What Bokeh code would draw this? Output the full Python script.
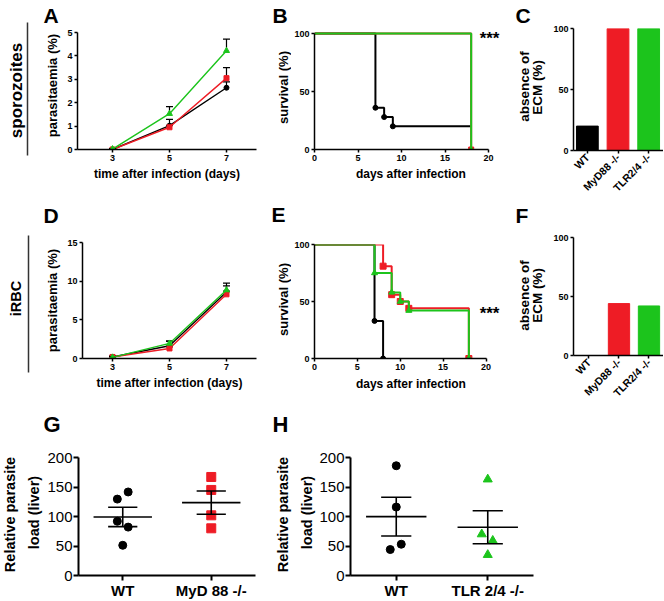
import math
from bokeh.plotting import figure
from bokeh.layouts import row, column
from bokeh.models import Range1d, Label
from bokeh.embed import file_html
from bokeh.resources import INLINE
from bokeh.core.properties import value

FONT = "Liberation Sans"
BLACK = "#000000"
RED = "#EE1C25"
GREEN = "#1CC41C"

# ---------------- data ----------------
days_par = [3, 5, 7]
# panel A (sporozoites, parasitaemia %)
A_wt = [0.0, 1.02, 2.64]
A_wt_err = [0.02, 0.27, 0.25]
A_myd = [0.0, 0.95, 3.05]
A_myd_err = [0.02, 0.08, 0.45]
A_tlr = [0.02, 1.53, 4.22]
A_tlr_err = [0.02, 0.30, 0.50]
# panel D (iRBC, parasitaemia %)
D_wt = [0.2, 1.65, 8.6]
D_wt_err = [0.1, 0.6, 0.8]
D_myd = [0.2, 1.3, 8.3]
D_myd_err = [0.1, 0.2, 0.4]
D_tlr = [0.15, 1.95, 8.85]
D_tlr_err = [0.1, 0.3, 0.9]

# survival curves (time, % survival)
B_wt_t = [0, 7, 8, 9, 18]
B_wt_s = [100, 36, 28, 20, 20]
B_myd_t = [0, 18]
B_myd_s = [100, 0]
B_tlr_t = [0, 18]
B_tlr_s = [100, 0]

E_wt_t = [0, 7, 8]
E_wt_s = [100, 33, 0]
E_myd_t = [0, 8, 9, 10, 11, 18]
E_myd_s = [100, 81, 56, 50, 44, 0]
E_tlr_t = [0, 7, 9, 10, 11, 18]
E_tlr_s = [100, 75, 58, 50, 42, 0]

# absence of ECM (%)
groups = ["WT", "MyD88 -/-", "TLR2/4 -/-"]
C_vals = [20, 100, 100]
F_vals = [0, 44, 42]

# relative parasite load (liver)
G_cats = ["WT", "MyD 88 -/-"]
G_wt = [141.6, 129.5, 92, 82, 51.2]
G_myd = [167, 145, 102, 80]
H_cats = ["WT", "TLR 2/4 -/-"]
H_wt = [186, 116, 53, 44]
H_tlr = [163, 70, 59, 35]
# horizontal scatter offsets (pixels) as in the picture
G_wt_jit = [5.5, -5.5, -5.5, 5.5, 0]
G_myd_jit = [0, 0, 0, 0]
H_wt_jit = [0, 0, 5, -6]
H_tlr_jit = [0, -6, 5, 0]


# ---------------- helpers ----------------
def base_fig(w, h, left, right, top, bottom, xr, yr):
    p = figure(width=w, height=h, x_range=Range1d(*xr), y_range=Range1d(*yr),
               output_backend="svg", toolbar_location=None,
               min_border_left=left, min_border_right=right,
               min_border_top=top, min_border_bottom=bottom,
               background_fill_color="white", border_fill_color="white")
    p.title.visible = False
    p.outline_line_color = None
    p.xgrid.visible = False
    p.ygrid.visible = False
    return p


def deco(x0, x1, y0, y1, texts, lines=()):
    """Decoration strip whose data units are page pixels (y downward as -y)."""
    p = figure(width=x1 - x0, height=y1 - y0, x_range=Range1d(x0, x1),
               y_range=Range1d(-y1, -y0), output_backend="svg",
               toolbar_location=None, x_axis_location=None, y_axis_location=None,
               min_border=0, background_fill_color="white",
               border_fill_color="white")
    p.title.visible = False
    p.outline_line_color = None
    p.grid.visible = False
    for txt, x, y, size, rot, align in texts:
        p.text(x=[x], y=[-y], text=[txt], angle=math.pi / 2 if rot else 0,
               text_align=align, text_baseline="middle", text_font=value(FONT),
               text_font_style="bold", text_font_size=size, text_color="black")
    for xa, ya, xb, yb in lines:
        p.segment(x0=[xa], y0=[-ya], x1=[xb], y1=[-yb], color="#333333",
                  line_width=1.5)
    return p


def box(*items):
    # separate column so that frames are not aligned across the row
    return column(*items)


def style_axes(p, tick_font="9px", bold=True, label_font="12px", lw=1.5,
               tick_out=3, standoff=2):
    for ax in p.axis:
        ax.axis_line_width = lw
        ax.axis_line_color = "black"
        ax.major_tick_line_width = lw
        ax.major_tick_line_color = "black"
        ax.major_tick_in = 0
        ax.major_tick_out = tick_out
        ax.minor_tick_line_color = None
        ax.major_label_text_font = FONT
        ax.major_label_text_font_size = tick_font
        ax.major_label_text_font_style = "bold" if bold else "normal"
        ax.major_label_text_color = "black"
        ax.major_label_standoff = standoff
        ax.axis_label_text_font = FONT
        ax.axis_label_text_font_size = label_font
        ax.axis_label_text_font_style = "bold"
        ax.axis_label_text_color = "black"
        ax.axis_label_standoff = 3


def stars(p, x, y):
    p.add_layout(Label(x=x, y=y, text="***", text_font=FONT, text_font_size="17px",
                       text_font_style="bold", text_color="black",
                       text_align="left", text_baseline="alphabetic"))


def parasitaemia(p, series):
    for vals, errs, color, marker, size in series:
        tops = [v + e for v, e in zip(vals, errs)]
        p.segment(days_par, vals, days_par, tops, color=BLACK, line_width=1.2)
        p.scatter(days_par, tops, marker="dash", size=7, color=BLACK, line_width=1.2)
        p.line(days_par, vals, color=color, line_width=1.4)
        p.scatter(days_par, vals, marker=marker, size=size, color=color)


def survival(p, curves):
    for t, s, color, marker, size in curves:
        p.step(t, s, mode="after", color=color, line_width=2)
        ev_t = [t[i] for i in range(1, len(t)) if s[i] != s[i - 1]]
        ev_s = [s[i] for i in range(1, len(t)) if s[i] != s[i - 1]]
        p.scatter(ev_t, ev_s, marker=marker, size=size, color=color)


def bars(p, vals):
    p.vbar(x=[0, 1, 2], top=vals, width=0.71, color=[BLACK, RED, GREEN])
    p.xaxis.ticker = [0, 1, 2]
    p.xaxis.major_label_overrides = {i: g for i, g in enumerate(groups)}
    p.xaxis.major_label_orientation = math.pi / 4
    p.yaxis.ticker = [0, 50, 100]
    style_axes(p)
    p.xaxis.major_label_text_font_size = "10.5px"


ROT = True
L, C = "left", "center"

# ---------------- row 1 ----------------
d1 = deco(0, 64, 0, 200,
          [("sporozoites", 15.5, 90, "17px", ROT, C),
           ("A", 43, 14.5, "21px", False, L),
           ("parasitaemia (%)", 52, 85, "13px", ROT, C)],
          [(27, 22, 27, 155)])

pA = base_fig(194, 200, 13, 2, 32, 51, (1.772, 8.053), (0, 5))
parasitaemia(pA, [(A_wt, A_wt_err, BLACK, "circle", 5),
                  (A_myd, A_myd_err, RED, "square", 5),
                  (A_tlr, A_tlr_err, GREEN, "triangle", 6)])
pA.xaxis.ticker = days_par
pA.yaxis.ticker = [0, 1, 2, 3, 4, 5]
pA.xaxis.axis_label = "time after infection (days)"
style_axes(pA)

d2 = deco(258, 291, 0, 200,
          [("B", 272, 14.5, "21px", False, L),
           ("survival (%)", 282.5, 87, "13px", ROT, C)])

pB = base_fig(214, 165, 22, 0, 16, 16, (0, 192 / 8.75), (0, 100 + 17 / 1.16))
survival(pB, [(B_wt_t, B_wt_s, BLACK, "circle", 5),
              (B_myd_t, B_myd_s, RED, "square", 5),
              (B_tlr_t, B_tlr_s, GREEN, "triangle", 5)])
pB.xaxis.ticker = [0, 5, 10, 15, 20]
pB.yaxis.ticker = [0, 50, 100]
pB.xaxis.bounds = (0, 20)
pB.yaxis.bounds = (0, 100)
style_axes(pB)
stars(pB, (479 - 313) / 8.75, (149 - 38.4) / 1.16)
tB = deco(291, 505, 165, 200, [("days after infection", 399, 173, "12px", False, C)])

d3 = deco(505, 550, 0, 200,
          [("C", 515, 15, "21px", False, L),
           ("absence of", 524, 86, "13.5px", ROT, C),
           ("ECM (%)", 536.5, 87, "13.5px", ROT, C)])

pC = base_fig(113, 200, 22, 0, 28, 50, (-0.452, 2.484), (0, 100))
bars(pC, C_vals)

# ---------------- row 2 ----------------
d4 = deco(0, 64, 200, 405,
          [("iRBC", 15.5, 298, "14.5px", ROT, C),
           ("D", 43, 214.5, "21px", False, L),
           ("parasitaemia (%)", 52, 300, "13px", ROT, C)],
          [(28, 235, 28, 372)])

pD = base_fig(194, 205, 18, 2, 42, 47, (1.947, 8.053), (0, 15))
parasitaemia(pD, [(D_wt, D_wt_err, BLACK, "circle", 5),
                  (D_myd, D_myd_err, RED, "square", 5),
                  (D_tlr, D_tlr_err, GREEN, "triangle", 6)])
pD.xaxis.ticker = days_par
pD.yaxis.ticker = [0, 5, 10, 15]
pD.xaxis.axis_label = "time after infection (days)"
style_axes(pD)

d5 = deco(258, 291, 200, 405,
          [("E", 271, 213.5, "21px", False, L),
           ("survival (%)", 282.5, 299, "13px", ROT, C)])

pE = base_fig(214, 174, 22, 0, 44, 16, (0, 192 / 8.62), (0, 100))
survival(pE, [(E_wt_t, E_wt_s, BLACK, "circle", 5),
              (E_myd_t, E_myd_s, RED, "square", 6),
              (E_tlr_t, E_tlr_s, GREEN, "triangle", 6)])
pE.xaxis.ticker = [0, 5, 10, 15, 20]
pE.yaxis.ticker = [0, 50, 100]
pE.xaxis.bounds = (0, 20)
style_axes(pE)
stars(pE, (479 - 313) / 8.62, (358 - 313) / 1.14)
tE = deco(291, 505, 374, 405, [("days after infection", 399, 383, "12px", False, C)])

d6 = deco(505, 550, 200, 405,
          [("F", 515, 214.5, "21px", False, L),
           ("absence of", 524, 295, "13.5px", ROT, C),
           ("ECM (%)", 536.5, 295, "13.5px", ROT, C)])

pF = base_fig(113, 205, 20, 0, 37, 47, (-0.516, 2.484), (0, 100))
bars(pF, F_vals)


# ---------------- row 3 ----------------
def mean_sem(v):
    n = len(v)
    m = sum(v) / n
    sd = math.sqrt(sum((x - m) ** 2 for x in v) / (n - 1))
    return m, sd / math.sqrt(n)


def load_panel(w, left, right, cats, a, a_jit, b, b_jit, b_color, b_marker, px_unit):
    p = base_fig(w, 159, left, right, 15, 24, (0, 2), (0, 200))
    for i, (vals, jit, color, marker, size) in enumerate(
            [(a, a_jit, BLACK, "circle", 8), (b, b_jit, b_color, b_marker, 9)]):
        xc = 0.5 + i
        xs = [xc + j / px_unit for j in jit]
        p.scatter(xs, vals, marker=marker, size=size, color=color)
        m, s = mean_sem(vals)
        p.segment([xc - 0.33], [m], [xc + 0.33], [m], color=BLACK, line_width=1.6)
        p.segment([xc - 0.165, xc - 0.165], [m - s, m + s], [xc + 0.165, xc + 0.165],
                  [m - s, m + s], color=BLACK, line_width=1.6)
        p.segment([xc], [m - s], [xc], [m + s], color=BLACK, line_width=1.6)
    p.xaxis.ticker = [0.5, 1.5]
    p.xaxis.major_label_overrides = {0.5: cats[0], 1.5: cats[1]}
    p.yaxis.ticker = [0, 50, 100, 150, 200]
    style_axes(p, tick_font="15px", bold=False, lw=2, tick_out=5, standoff=1)
    p.xaxis.major_label_text_font_style = "bold"
    return p


strip = deco(0, 664, 405, 442,
             [("G", 43, 423.5, "22px", False, L),
              ("H", 272, 423.5, "22px", False, L)])
d7 = deco(0, 44, 442, 601,
          [("Relative parasite", 9.5, 514, "14.5px", ROT, C),
           ("load (liver)", 33, 512, "14.5px", ROT, C)])
pG = load_panel(218, 31, 7, G_cats, G_wt, G_wt_jit, G_myd, G_myd_jit, RED, "square", 90)
d8 = deco(262, 316, 442, 601,
          [("Relative parasite", 282.5, 514, "14.5px", ROT, C),
           ("load (liver)", 306, 512, "14.5px", ROT, C)])
pH = load_panel(348, 34, 131, H_cats, H_wt, H_wt_jit, H_tlr, H_tlr_jit, GREEN,
                "triangle", 91.5)

layout = column(
    row(box(d1), box(pA), box(d2), box(pB, tB), box(d3), box(pC)),
    row(box(d4), box(pD), box(d5), box(pE, tE), box(d6), box(pF)),
    strip,
    row(box(d7), box(pG), box(d8), box(pH)),
)

with open("out.html", "w") as f:
    f.write(file_html(layout, INLINE))
